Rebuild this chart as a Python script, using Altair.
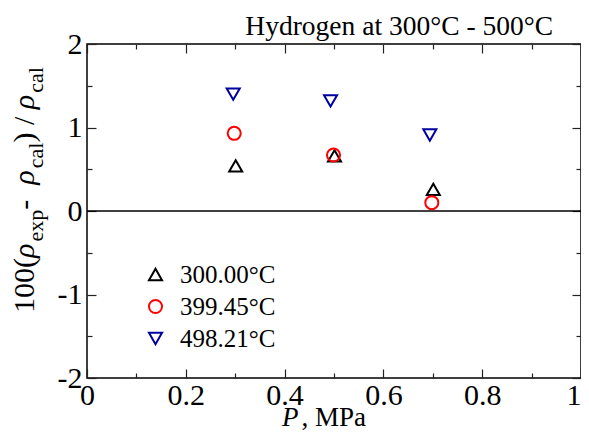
import altair as alt
import pandas as pd

# ---------------- data ----------------
temps = ["300.00°C", "399.45°C", "498.21°C"]
p_300 = [0.301, 0.501, 0.701]
d_300 = [0.54, 0.66, 0.26]
p_399 = [0.298, 0.499, 0.698]
d_399 = [0.93, 0.67, 0.10]
p_498 = [0.296, 0.493, 0.694]
d_498 = [1.40, 1.32, 0.91]

x_major = [0, 0.2, 0.4, 0.6, 0.8, 1]
x_minor = [0.1, 0.3, 0.5, 0.7, 0.9]
y_major = [-2, -1, 0, 1, 2]
y_minor = [-1.5, -0.5, 0.5, 1.5]

colors = ["#000000", "#ff0000", "#0000a0"]
shapes = ["triangle-up", "circle", "triangle-down"]

rows = []
for t, ps, ds in zip(temps, [p_300, p_399, p_498], [d_300, d_399, d_498]):
    for p, d in zip(ps, ds):
        rows.append({"T": t, "P": p, "D": d})
df = pd.DataFrame(rows)

FONT = "Liberation Serif"
W, H = 494, 334

xs = alt.Scale(domain=[0, 1], nice=False, zero=False)
ys = alt.Scale(domain=[-2, 2], nice=False, zero=False)


def axis(orient, values, size, labels=False, pad=4, **extra):
    kw = dict(orient=orient, values=values, tickSize=size, offset=-size,
              title=None, grid=False, domain=False, labels=labels,
              tickColor="#222", tickWidth=1.2)
    if labels:
        kw.update(labelExpr="'' + datum.value", labelPadding=pad,
                  labelFlush=False, labelOverlap=False, labelBound=False,
                  labelFont=FONT, labelFontSize=30, labelColor="black")
    kw.update(extra)
    return alt.Axis(**kw)


def axis_layer(xa, ya):
    return alt.Chart(df).mark_point(opacity=0).encode(
        x=alt.X("P:Q", scale=xs, axis=xa),
        y=alt.Y("D:Q", scale=ys, axis=ya),
    )


legend = alt.Legend(title=None, orient="none", legendX=56, legendY=218,
                    labelFont=FONT, labelFontSize=25, labelColor="black",
                    symbolSize=170, symbolStrokeWidth=2, symbolOpacity=1, rowPadding=6,
                    labelOffset=12, padding=0)

x_bottom = axis("bottom", x_major, 9, True, 2,
                labelAlign={"condition": {"test": "datum.value == 1", "value": "right"},
                            "value": "center"})

points = alt.Chart(df).mark_point(filled=False, size=170, strokeWidth=2, opacity=1).encode(
    x=alt.X("P:Q", scale=xs, axis=x_bottom),
    y=alt.Y("D:Q", scale=ys, axis=axis("left", y_major, 9, True, 5)),
    color=alt.Color("T:N", scale=alt.Scale(domain=temps, range=colors), legend=legend),
    shape=alt.Shape("T:N", scale=alt.Scale(domain=temps, range=shapes), legend=legend),
)

l2 = axis_layer(axis("bottom", x_minor, 5), axis("left", y_minor, 5))
l3 = axis_layer(axis("top", x_major, 9), axis("right", y_major, 9))
l4 = axis_layer(axis("top", x_minor, 5), axis("right", y_minor, 5))

zero = alt.Chart(pd.DataFrame({"z": [0]})).mark_rule(color="black", strokeWidth=1.5).encode(
    y=alt.Y("z:Q", scale=ys, axis=None)
)

one = pd.DataFrame({"a": [0]})

# ------- text pieces (titles with italic / subscripts) -------
WID = {"0": .5, "1": .5, "(": .333, ")": .333, "\u00a0": .25, "-": .333, "/": .278,
       "e": .444, "x": .5, "p": .5, "c": .444, "a": .444, "l": .278, "ρ": .55,
       "P": .611, ",": .25, "M": .889}


def tw(s, size):
    return sum(WID.get(ch, .5) for ch in s) * size


def piece(txt, size, style, x, y, angle=0, align="left"):
    return alt.Chart(one).mark_text(text=txt, font=FONT, fontSize=size, fontStyle=style,
                                    angle=angle, align=align, baseline="alphabetic",
                                    color="black").encode(x=alt.value(x), y=alt.value(y))


NB = "\u00a0"
MAIN, SUB = 30, 22
ytitle_pieces = [("100(", MAIN, "normal", 0), ("ρ", MAIN, "italic", 0), ("exp", SUB, "normal", 9),
                 (NB + "-" + NB, MAIN, "normal", 0), ("ρ", MAIN, "italic", 0), ("cal", SUB, "normal", 9),
                 (")" + NB + "/" + NB, MAIN, "normal", 0), ("ρ", MAIN, "italic", 0), ("cal", SUB, "normal", 9)]
texts = []
pos = 269
base = -53
for txt, size, style, shift in ytitle_pieces:
    texts.append(piece(txt, size, style, base + shift, pos, angle=270))
    pos -= tw(txt, size)

# x title: "P , MPa"
XF = 27
x0 = 195
texts.append(piece("P", XF, "italic", x0, 382))
texts.append(piece(NB + "," + NB + "MPa", XF, "normal", x0 + tw("P", XF) + 3, 382))

# top title
texts.append(piece("Hydrogen at 300°C - 500°C", 27.5, "normal", W - 28, -9, align="right"))

chart = alt.layer(l2, l3, l4, zero, points, *texts).resolve_axis(
    x="independent", y="independent"
).properties(
    width=W, height=H, autosize=alt.AutoSizeParams(type="none"),
    padding={"left": 79, "top": 36, "right": 0, "bottom": 53},
).configure_view(stroke="black", strokeWidth=1.5)

chart.save("out.html", embed_options={"renderer": "svg", "actions": False})
